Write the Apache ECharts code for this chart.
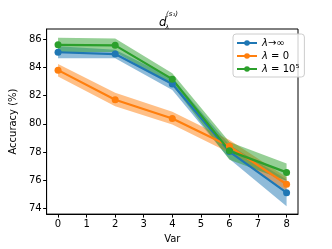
<!DOCTYPE html>
<html><head><meta charset="utf-8">
<script src="https://cdn.jsdelivr.net/npm/echarts@6/dist/echarts.min.js"></script>
<style>html,body{margin:0;padding:0;background:#fff}#c{width:332px;height:249px}</style>
</head><body><div id="c"></div>
<script>
const xs = [0, 2, 4, 6, 8];
const blueY = [85.08, 84.95, 82.83, 78.03, 75.11];
const blueLo = [84.65, 84.65, 82.4, 77.5, 74.15];
const blueHi = [85.5, 85.25, 83.25, 78.5, 76.05];
const orangeY = [83.81, 81.71, 80.38, 78.40, 75.71];
const orangeLo = [83.35, 81.25, 79.95, 77.95, 75.25];
const orangeHi = [84.25, 82.2, 80.85, 78.85, 76.2];
const greenY = [85.61, 85.57, 83.17, 78.08, 76.55];
const greenLo = [85.1, 85.1, 82.75, 77.45, 75.95];
const greenHi = [86.1, 86.05, 83.58, 78.7, 77.19];
const names = ['λ→∞', 'λ = 0', 'λ = 10⁵'];
const colors = ['#1f77b4', '#ff7f0e', '#2ca02c'];
const xTicks = [0, 1, 2, 3, 4, 5, 6, 7, 8];
const yTicks = [74, 76, 78, 80, 82, 84, 86];

const chart = echarts.init(document.getElementById('c'), null, {renderer: 'canvas'});
function band(lo, hi, color) {
  return {
    type: 'custom', silent: true, z: 1,
    data: [[xs[0], lo[0]]],
    renderItem: function (params, api) {
      const pts = [];
      for (let i = 0; i < xs.length; i++) pts.push(api.coord([xs[i], hi[i]]));
      for (let i = xs.length - 1; i >= 0; i--) pts.push(api.coord([xs[i], lo[i]]));
      return {type: 'polygon', shape: {points: pts}, style: {fill: color, opacity: 0.5}};
    }
  };
}
function line(name, ys, color) {
  return {
    type: 'line', name: name, z: 3,
    data: xs.map((x, i) => [x, ys[i]]),
    symbol: 'circle', symbolSize: 7,
    lineStyle: {width: 2.2, color: color},
    itemStyle: {color: color},
    animation: false
  };
}
const font = 'DejaVu Sans';
chart.setOption({
  animation: false,
  grid: {left: 41.5, right: 34, top: 29, bottom: 28, show: true, borderColor: '#000', borderWidth: 1},
  xAxis: {
    type: 'value', min: -0.4, max: 8.4,
    name: 'Var', nameLocation: 'middle', nameGap: 19,
    nameTextStyle: {fontFamily: font, fontSize: 10, color: '#000'},
    axisLine: {show: true, onZero: false, lineStyle: {color: '#000', width: 1}},
    axisTick: {show: true, length: 3.5, customValues: xTicks, lineStyle: {color: '#000'}},
    axisLabel: {customValues: xTicks, fontFamily: font, fontSize: 10, color: '#000', margin: 5},
    splitLine: {show: false}
  },
  yAxis: {
    type: 'value', min: 73.59, max: 86.73,
    name: 'Accuracy (%)', nameLocation: 'middle', nameGap: 22,
    nameTextStyle: {fontFamily: font, fontSize: 10, color: '#000'},
    axisLine: {show: true, onZero: false, lineStyle: {color: '#000', width: 1}},
    axisTick: {show: true, length: 3.5, customValues: yTicks, lineStyle: {color: '#000'}},
    axisLabel: {customValues: yTicks, fontFamily: font, fontSize: 10, color: '#000', margin: 5},
    splitLine: {show: false}
  },
  legend: {
    data: names, left: 233, top: 34, orient: 'vertical',
    itemWidth: 20, itemHeight: 7, itemGap: 3,
    padding: [4, 5, 3, 3],
    borderColor: '#ccc', borderWidth: 1, borderRadius: 3,
    backgroundColor: 'rgba(255,255,255,0.8)',
    formatter: function (n) { return '{i|λ}' + n.slice(1); },
    textStyle: {fontFamily: font, fontSize: 10, color: '#000',
      rich: {i: {fontFamily: font, fontSize: 10, fontStyle: 'italic', color: '#000'}}}
  },
  graphic: [
    {type: 'text', left: 159, top: 17, style: {text: 'd', font: 'italic 12px "DejaVu Sans"', fill: '#000'}},
    {type: 'text', left: 166, top: 11, style: {text: '(s₁)', font: 'italic 7px "DejaVu Sans"', fill: '#000'}},
    {type: 'text', left: 165.5, top: 24, style: {text: 'λ', font: 'italic 6px "DejaVu Sans"', fill: '#000'}}
  ],
  series: [
    band(blueLo, blueHi, colors[0]),
    band(orangeLo, orangeHi, colors[1]),
    band(greenLo, greenHi, colors[2]),
    line(names[0], blueY, colors[0]),
    line(names[1], orangeY, colors[1]),
    line(names[2], greenY, colors[2])
  ]
});
</script></body></html>
